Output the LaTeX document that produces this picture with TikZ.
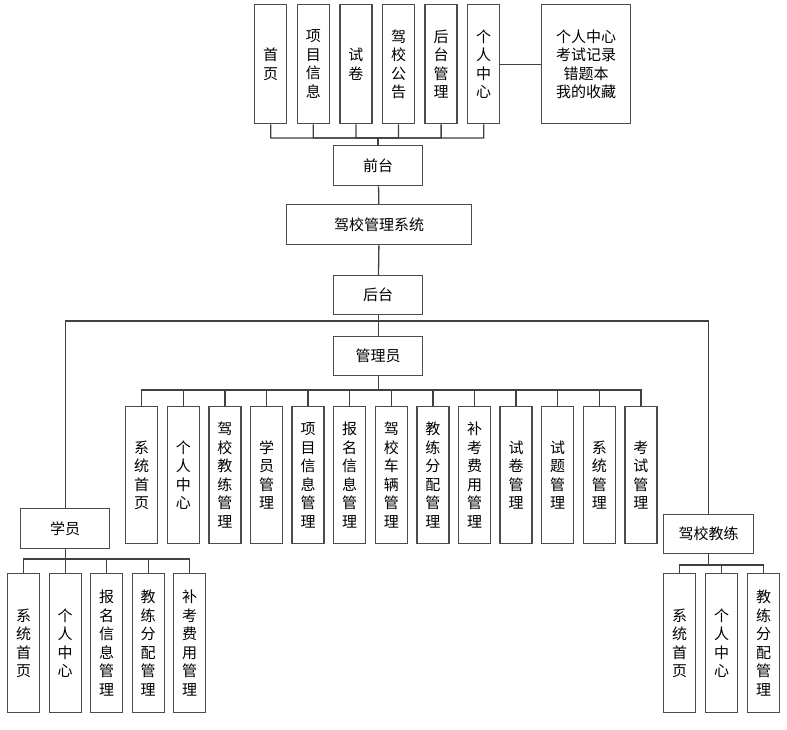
\documentclass[tikz,border=0pt]{standalone}
\usepackage{fontspec}
\newfontfamily\cjk{Noto Sans CJK SC}
\usetikzlibrary{positioning}
\tikzset{
  box/.style  ={rectangle, draw=black!70, line width=1.4pt, fill=white, align=center,
                inner sep=0pt, anchor=north west, font=\cjk\fontsize{15}{18.5}\selectfont},
  vbox/.style ={box, minimum width=32pt},
  hbox/.style ={box, minimum width=89pt, minimum height=40pt},
  ln/.style   ={draw=black!75, line width=1.3pt},
}

\begin{document}
\begin{tikzpicture}[x=1pt, y=-1pt]
\useasboundingbox (0,0) rectangle (787,729);
% front end
\foreach \t [count=\i] in {{首\\页},{项\\目\\信\\息},{试\\卷},{驾\\校\\公\\告},{后\\台\\管\\理},{个\\人\\中\\心}}
  \node[vbox, minimum height=119pt] (t\i) at ({254+42.6*(\i-1)},4) {\t};
\node[box, minimum width=89pt, minimum height=119pt] (info) at (541,4) {个人中心\\考试记录\\错题本\\我的收藏};
\node[hbox] (fore) at (333,145) {前台};
\node[hbox, minimum width=185pt] (sys) at (286,204) {驾校管理系统};
\node[hbox, minimum height=39pt] (back) at (333,275) {后台};
\node[hbox, minimum height=39pt] (admin) at (333,336) {管理员};
\node[hbox] (stu) at (20,508) {学员};
\node[hbox, minimum width=90pt, minimum height=39pt] (coach) at (663,514) {驾校教练};
% admin functions
\foreach \t [count=\i] in {{系\\统\\首\\页},{个\\人\\中\\心},{驾\\校\\教\\练\\管\\理},{学\\员\\管\\理},
    {项\\目\\信\\息\\管\\理},{报\\名\\信\\息\\管\\理},{驾\\校\\车\\辆\\管\\理},{教\\练\\分\\配\\管\\理},
    {补\\考\\费\\用\\管\\理},{试\\卷\\管\\理},{试\\题\\管\\理},{系\\统\\管\\理},{考\\试\\管\\理}}
  \node[vbox, minimum height=137pt] (a\i) at ({125+41.6*(\i-1)},406) {\t};
% student functions
\foreach \t [count=\i] in {{系\\统\\首\\页},{个\\人\\中\\心},{报\\名\\信\\息\\管\\理},{教\\练\\分\\配\\管\\理},{补\\考\\费\\用\\管\\理}}
  \node[vbox, minimum height=139pt] (s\i) at ({7+41.5*(\i-1)},573) {\t};
% coach functions
\foreach \t [count=\i] in {{系\\统\\首\\页},{个\\人\\中\\心},{教\\练\\分\\配\\管\\理}}
  \node[vbox, minimum height=139pt] (c\i) at ({663+42*(\i-1)},573) {\t};

\coordinate (tbus) at (378,138);
\coordinate (mbus) at (378,321);
\coordinate (abus) at (0,390);
\coordinate (sbus) at (0,559);
\coordinate (cbus) at (0,565);
\draw[ln] (t6) -- (info);
\foreach \i in {1,...,6}
  \draw[ln] (t\i.south) |- (tbus) -- (fore.north);
\draw[ln] (fore) -- (sys);
\draw[ln] (sys) -- (back);
\draw[ln] (back) -- (admin);
\draw[ln] (stu.north) |- (mbus) -| (coach.north);
\foreach \i in {1,...,13}
  \draw[ln] (admin.south) -- (admin.south |- abus) -| (a\i.north);
\foreach \i in {1,...,5}
  \draw[ln] (stu.south) -- (stu.south |- sbus) -| (s\i.north);
\foreach \i in {1,...,3}
  \draw[ln] (coach.south) -- (coach.south |- cbus) -| (c\i.north);
\end{tikzpicture}
\end{document}
